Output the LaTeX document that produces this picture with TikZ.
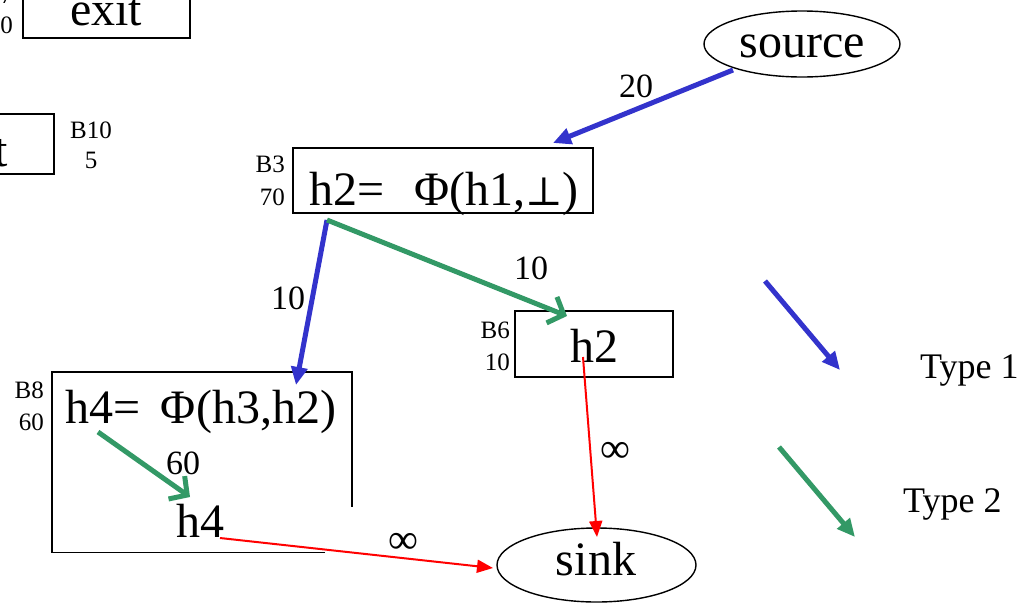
\documentclass[tikz,border=0pt]{standalone}
\usepackage{fontspec}
\setmainfont{Liberation Serif}
\newfontfamily\symf{DejaVu Serif}
\usetikzlibrary{arrows.meta,shapes.geometric}
\definecolor{tblue}{HTML}{3333CC}
\definecolor{tgreen}{HTML}{339966}
\definecolor{tred}{HTML}{FF0000}
\begin{document}
\begin{tikzpicture}[x=1pt,y=-1pt,
  box/.style={draw,line width=1.6pt,inner sep=0pt},
  oval/.style={draw,ellipse,line width=1.4pt,inner sep=0pt},
  big/.style={inner sep=0pt,font=\fontsize{48}{50}\selectfont},
  small/.style={inner sep=0pt,font=\fontsize{25}{27}\selectfont},
  num/.style={inner sep=0pt,font=\fontsize{34}{36}\selectfont},
  inflbl/.style={inner sep=0pt,font=\fontsize{42}{44}\selectfont},
  legend/.style={inner sep=0pt,font=\fontsize{36}{38}\selectfont},
  tone/.style={draw=tblue,line width=5pt,-{Triangle[length=18pt,width=16pt]}},
  ttwo/.style={draw=tgreen,line width=5pt,-{Straight Barb[length=13pt,width=28pt]}},
  ttwoleg/.style={draw=tgreen,line width=5pt,-{Triangle[length=18pt,width=16pt]}},
  tinf/.style={draw=tred,line width=2pt,-{Triangle[length=16pt,width=13pt]}}
]
\useasboundingbox (0,0) rectangle (1033,603);

% top-left exit box (cropped)
\node[box,minimum width=167pt,minimum height=70pt] (exitA) at (106.5,3) {};
\node[big,anchor=base] (exitAt) at (106,25) {exit};
\node[small,anchor=base east] (exitAl1) at (13,3) {B7};
\node[small,anchor=base east] (exitAl2) at (13,33) {10};

% second exit box (cropped)
\node[box,minimum width=167pt,minimum height=60pt] (exitB) at (-29.5,144) {};
\node[big,anchor=base east] (exitBt) at (8,166) {exit};
\node[small,anchor=base] (b10a) at (91,138) {B10};
\node[small,anchor=base] (b10b) at (91,168) {5};

% source
\node[oval,minimum width=196pt,minimum height=66pt] (source) at (802,44) {};
\node[big,anchor=base] (sourcet) at (802,57) {source};

% B3
\node[box,minimum width=300pt,minimum height=65pt] (b3) at (443,180.5) {};
\node[big,anchor=base] (b3t) at (444,205) {h2=\hspace{30pt}Φ(h1,{\symf\fontsize{40}{40}\selectfont ⊥})};
\node[small,anchor=base east] (b3l1) at (285,172) {B3};
\node[small,anchor=base east] (b3l2) at (285,205) {70};

% B6
\node[box,minimum width=158pt,minimum height=66pt] (b6) at (594,344) {};
\node[big,anchor=base] (b6t) at (594,362) {h2};
\node[small,anchor=base east] (b6l1) at (510,338) {B6};
\node[small,anchor=base east] (b6l2) at (510,370) {10};

% B8 (open box)
\draw[line width=1.6pt] (325,552.5) -- (52,552.5) -- (52,372) -- (352,372) -- (352,507);
\node[big,anchor=base] (b8t) at (201,423) {h4=\hspace{20pt}Φ(h3,h2)};
\node[small,anchor=base east] (b8l1) at (44,398) {B8};
\node[small,anchor=base east] (b8l2) at (44,430) {60};
\node[big,anchor=base] (h4t) at (200,537) {h4};

% sink
\node[oval,minimum width=199pt,minimum height=74pt] (sink) at (596.5,565) {};
\node[big,anchor=base] (sinkt) at (596,575) {sink};

% connector end points
\coordinate (srcout) at (733,70);
\coordinate (b3in) at (553,143);
\coordinate (b3out) at (327,220);
\coordinate (b8in) at (296,385);
\coordinate (b6in) at (567,316);
\coordinate (b6out) at (583,357);
\coordinate (sinktop) at (597,537);
\coordinate (h4def) at (98,432);
\coordinate (h4use) at (190,497);
\coordinate (h4out) at (220,538);
\coordinate (sinkleft) at (493,568);

\draw[tone] (srcout) -- (b3in);
\draw[tone] (b3out) -- (b8in);
\draw[ttwo] (b3out) -- (b6in);
\draw[tinf] (b6out) -- (sinktop);
\draw[ttwo] (h4def) -- (h4use);
\draw[tinf] (h4out) -- (sinkleft);

% edge labels
\node[num] (w20) at (636,86) {20};
\node[num] (w10a) at (288,298) {10};
\node[num] (w10b) at (531,268) {10};
\node[num] (w60) at (183,463) {60};
\node[inflbl] (winfa) at (615,452) {∞};
\node[inflbl] (winfb) at (403,543) {∞};

% legend
\coordinate (lg1a) at (765,281);
\coordinate (lg1b) at (840,370);
\coordinate (lg2a) at (779,447);
\coordinate (lg2b) at (855,537);
\draw[tone] (lg1a) -- (lg1b);
\draw[ttwoleg] (lg2a) -- (lg2b);
\node[legend,anchor=base west] (type1) at (920,378) {Type 1};
\node[legend,anchor=base west] (type2) at (903,512) {Type 2};
\end{tikzpicture}
\end{document}
